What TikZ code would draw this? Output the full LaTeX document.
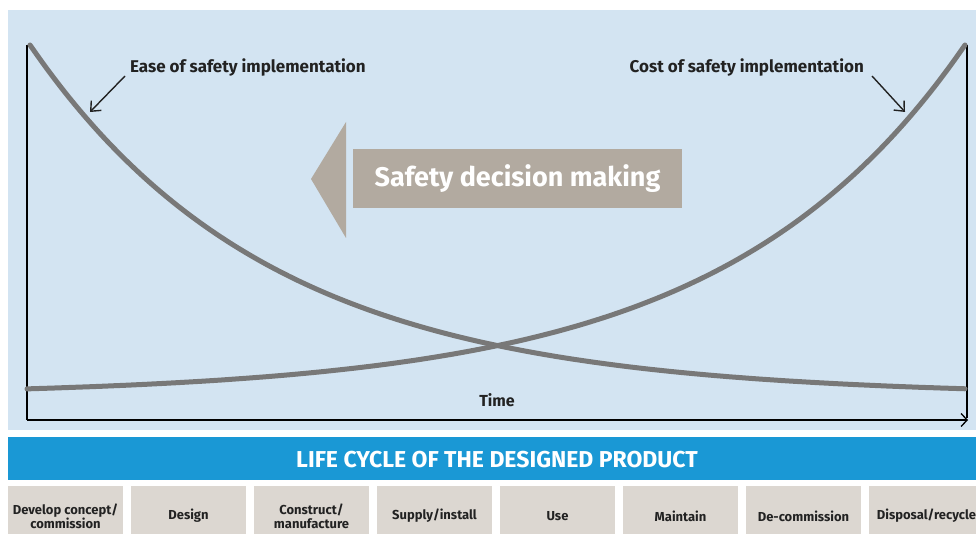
\documentclass[tikz,border=0pt]{standalone}
\usepackage{fontspec}
\setmainfont{Fira Sans}
\usetikzlibrary{positioning,arrows.meta}

\definecolor{panelblue}{HTML}{D3E4F2}
\definecolor{bandblue}{HTML}{1A98D5}
\definecolor{phasegray}{HTML}{DCD7D1}
\definecolor{decisiongray}{HTML}{B2AAA0}
\definecolor{curvegray}{HTML}{787878}
\definecolor{textdark}{HTML}{222222}

\tikzset{
  curve/.style={draw=curvegray, line width=5pt, line cap=round},
  note/.style={font=\bfseries\fontsize{17}{20}\selectfont, text=textdark, inner sep=0pt},
  phase/.style={fill=phasegray, minimum width=115pt, minimum height=60pt, inner sep=0pt,
    align=center, text=textdark, font=\bfseries\fontsize{13}{14}\selectfont},
  pointer/.style={-{Straight Barb[length=8pt,width=14pt]}, line width=1.4pt, draw=textdark},
}

\begin{document}
\begin{tikzpicture}[x=1pt,y=-1pt]
    \useasboundingbox (0,0) rectangle (976,534);
    \fill[white] (0,0) rectangle (976,534);
    \fill[panelblue] (8,10) rectangle (976,430);

    % axes
    \coordinate (O) at (27,420);
    \coordinate (top) at (27,45);
    \coordinate (end) at (968,420);
    \coordinate (righttop) at (967,45);
    \draw[line width=1.3pt] (top) -- (O);
    \draw[line width=1.3pt, -{Straight Barb[length=6pt,width=13pt]}] (O) -- (end);
    \draw[line width=1.3pt] (righttop) -- (967,418);
    \node[note, font=\bfseries\fontsize{16}{18}\selectfont] (time) at (497,400) {Time};

    % the two curves
    \draw[curve] plot[domain=30:965, samples=120, smooth] (\x, {396-351*exp(-0.00415*(\x-30))});
    \draw[curve] plot[domain=27:965, samples=120, smooth] (\x, {396-351*exp(-0.00415*(965-\x))});

    % labels
    \node[note, anchor=west] (ease) at (130,67) {Ease of safety implementation};
    \node[note, anchor=east] (cost) at (864,67) {Cost of safety implementation};
    \coordinate (easetail) at (125,76);
    \coordinate (easetip) at (90,112);
    \coordinate (costtail) at (872,76);
    \coordinate (costtip) at (905,112);
    \draw[pointer] (easetail) -- (easetip);
    \draw[pointer] (costtail) -- (costtip);

    % decision arrow
    \node[fill=decisiongray, minimum width=329pt, minimum height=59pt, inner sep=0pt,
      text=white, font=\bfseries\fontsize{27}{30}\selectfont] (decision) at (517.5,178.5) {Safety decision making};
    \fill[decisiongray] (346,122) -- (346,238) -- (311,179) -- cycle;

    % life cycle
    \node[fill=bandblue, minimum width=968pt, minimum height=43pt, inner sep=0pt, anchor=north west] (band) at (8,437) {};
    \node[text=white, font=\bfseries\fontsize{23}{26}\selectfont] (title) at (497,460) {LIFE CYCLE OF THE DESIGNED PRODUCT};
    \foreach \stage [count=\i from 0] in {{Develop concept/\\commission},Design,{Construct/\\manufacture},
        Supply/install,Use,Maintain,De-commission,Disposal/recycle}
      \node[phase] (p\i) at (65.5+123*\i,516) {\stage};
\end{tikzpicture}
\end{document}
